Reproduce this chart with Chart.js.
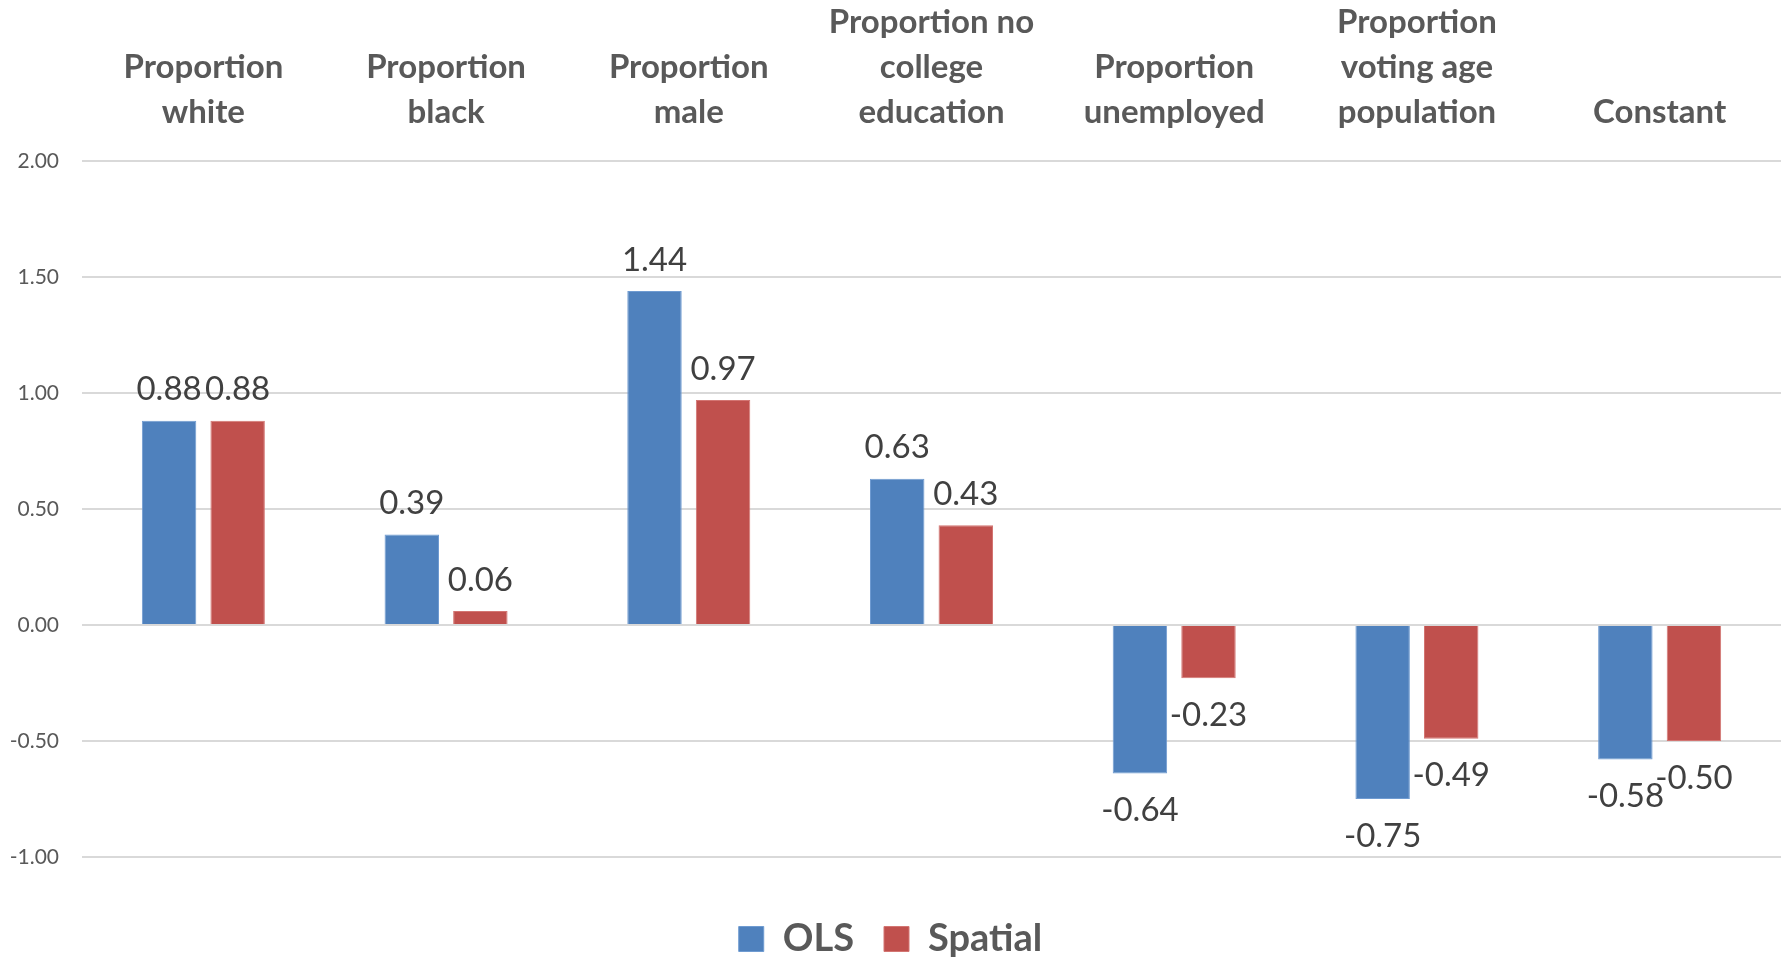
<!DOCTYPE html>
<html>
<head>
<meta charset="utf-8">
<script src="https://cdn.jsdelivr.net/npm/chart.js@4/dist/chart.umd.min.js"></script>
<style>
  body { margin: 0; background: #fff; }
  #wrap { width: 1787px; height: 960px; position: relative; }
</style>
</head>
<body>
<div id="wrap"><canvas id="myChart"></canvas></div>
<script>
// data
var categories = [
  ['Proportion', 'white'],
  ['Proportion', 'black'],
  ['Proportion', 'male'],
  ['Proportion no', 'college', 'education'],
  ['Proportion', 'unemployed'],
  ['Proportion', 'voting age', 'population'],
  'Constant'
];
var olsValues = [0.88, 0.39, 1.44, 0.63, -0.64, -0.75, -0.58];
var spatialValues = [0.88, 0.06, 0.97, 0.43, -0.23, -0.49, -0.50];
var yTicks = [-1.00, -0.50, 0.00, 0.50, 1.00, 1.50, 2.00];

// draws the number at the end of every bar
var barLabels = {
  id: 'barLabels',
  afterDatasetsDraw: function(chart) {
    var ctx = chart.ctx;
    ctx.save();
    ctx.font = '33px Lato';
    ctx.fillStyle = '#404040';
    ctx.textAlign = 'center';
    ctx.textBaseline = 'middle';
    chart.data.datasets.forEach(function(ds, i) {
      var meta = chart.getDatasetMeta(i);
      meta.data.forEach(function(bar, j) {
        var v = ds.data[j];
        var y = v >= 0 ? bar.y - 31 : bar.y + 37;
        ctx.fillText(v.toFixed(2), bar.x, y);
      });
    });
    ctx.restore();
  }
};

function draw() {
  var ctx = document.getElementById('myChart').getContext('2d');
  new Chart(ctx, {
    type: 'bar',
    data: {
      labels: categories,
      datasets: [{
        label: 'OLS',
        data: olsValues,
        backgroundColor: '#4F81BD',
        borderColor: '#6f9bd1',
        borderWidth: 1,
        categoryPercentage: 0.565,
        barPercentage: 0.794
      }, {
        label: 'Spatial',
        data: spatialValues,
        backgroundColor: '#C0504D',
        borderColor: '#d37572',
        borderWidth: 1,
        categoryPercentage: 0.565,
        barPercentage: 0.794
      }]
    },
    options: {
      responsive: true,
      maintainAspectRatio: false,
      animation: false,
      layout: { padding: { top: 0, left: 0, right: 6, bottom: -8 } },
      plugins: {
        tooltip: { enabled: false },
        legend: {
          position: 'bottom',
          title: { display: true, text: '', font: { size: 10 }, padding: { top: 21, bottom: 0 } },
          labels: {
            boxWidth: 25,
            boxHeight: 25,
            padding: 30,
            color: '#595959',
            font: { family: 'Lato', size: 38, weight: 'bold' }
          }
        }
      },
      scales: {
        x: {
          position: 'top',
          grid: { display: false },
          border: { display: false },
          ticks: {
            autoSkip: false,
            maxRotation: 0,
            padding: 18,
            color: '#595959',
            font: { family: 'Lato', size: 33, weight: 'bold', lineHeight: 1.36 }
          },
          afterFit: function(scale) { scale.height = 161; }
        },
        y: {
          min: -1,
          max: 2,
          afterBuildTicks: function(scale) {
            scale.ticks = yTicks.map(function(v) { return { value: v }; });
          },
          grid: { color: '#d9d9d9', lineWidth: 2, drawTicks: false },
          border: { display: false },
          ticks: {
            padding: 23,
            color: '#595959',
            font: { family: 'Lato', size: 21 },
            callback: function(v) { return Number(v).toFixed(2); }
          },
          afterFit: function(scale) { scale.width = 82; }
        }
      }
    },
    plugins: [barLabels]
  });
}

Promise.all([
  document.fonts.load('bold 33px Lato'),
  document.fonts.load('33px Lato')
]).then(draw, draw);
</script>
</body>
</html>
